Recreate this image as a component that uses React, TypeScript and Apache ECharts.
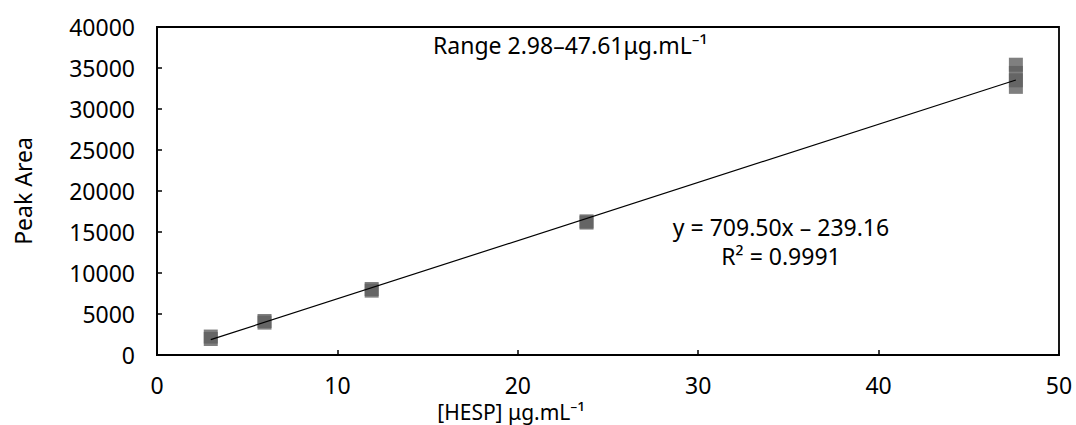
import React, { useEffect, useRef } from "react";
import * as echarts from "echarts";

const concX = [2.98, 2.98, 5.96, 5.96, 11.9, 11.9, 23.81, 23.81, 47.61, 47.61, 47.61, 47.61];
const peakArea = [1950, 2250, 3950, 4150, 7850, 8050, 16150, 16300, 32700, 33500, 34400, 35400];
const trendX = [2.98, 47.61];
const trendY = [1875, 33540];
const xTicks = [0, 10, 20, 30, 40, 50];
const yTicks = [0, 5000, 10000, 15000, 20000, 25000, 30000, 35000, 40000];

const FONT = "'Noto Sans', sans-serif";

export default function App() {
  const ref = useRef<HTMLDivElement>(null);
  useEffect(() => {
    if (!ref.current) return;
    const chart = echarts.init(ref.current, null, { renderer: "svg" });
    chart.setOption({
      animation: false,
      backgroundColor: "#fff",
      textStyle: { fontFamily: FONT },
      grid: {
        left: 157,
        right: 17,
        top: 27,
        bottom: 70,
        outerBoundsMode: "none",
        containLabel: false,
        show: true,
        borderColor: "#000",
        borderWidth: 1.8,
      },
      xAxis: {
        type: "value",
        min: xTicks[0],
        max: xTicks[xTicks.length - 1],
        interval: 10,
        axisLine: { show: true, lineStyle: { color: "#000", width: 1.8 } },
        axisTick: { show: true, inside: true, length: 5, lineStyle: { color: "#000", width: 1.5 } },
        axisLabel: { color: "#000", fontSize: 23, lineHeight: 20, margin: 20, fontFamily: FONT },
        splitLine: { show: false },
      },
      yAxis: {
        type: "value",
        min: yTicks[0],
        max: yTicks[yTicks.length - 1],
        interval: 5000,
        name: "Peak Area",
        nameLocation: "middle",
        nameGap: 123,
        nameTextStyle: { color: "#000", fontSize: 23, fontFamily: FONT },
        axisLine: { show: true, lineStyle: { color: "#000", width: 1.8 } },
        axisTick: { show: true, inside: true, length: 5, lineStyle: { color: "#000", width: 1.5 } },
        axisLabel: {
          color: "#000",
          fontSize: 23,
          margin: 22,
          fontFamily: FONT,
          formatter: (v: number) => String(v),
        },
        splitLine: { show: false },
      },
      series: [
        {
          type: "scatter",
          symbol: "rect",
          symbolSize: 14,
          itemStyle: { color: "#5f5f5f" },
          data: concX.map((x, i) => [x, peakArea[i]]),
          z: 2,
        },
        {
          type: "line",
          symbol: "none",
          lineStyle: { color: "#000", width: 1.2 },
          data: trendX.map((x, i) => [x, trendY[i]]),
          z: 3,
        },
      ],
      graphic: [
        {
          type: "text",
          x: 511,
          y: 412,
          style: {
            text: "[HESP] μg.mL⁻¹",
            fontSize: 21,
            lineHeight: 20,
            fill: "#000",
            align: "center",
            verticalAlign: "middle",
            fontFamily: FONT,
          },
        },
        {
          type: "text",
          left: 433,
          top: 33,
          style: { text: "Range 2.98–47.61μg.mL⁻¹", fontSize: 23, fill: "#000", fontFamily: FONT },
        },
        {
          type: "text",
          x: 781,
          y: 227,
          style: {
            text: "y = 709.50x – 239.16",
            fontSize: 23,
            fill: "#000",
            align: "center",
            verticalAlign: "middle",
            fontFamily: FONT,
          },
        },
        {
          type: "text",
          x: 781,
          y: 256,
          style: {
            text: "R² = 0.9991",
            fontSize: 23,
            fill: "#000",
            align: "center",
            verticalAlign: "middle",
            fontFamily: FONT,
          },
        },
      ],
    });
    return () => chart.dispose();
  }, []);
  return (
    <div
      ref={ref}
      style={{ position: "fixed", left: 0, top: 0, width: 1076, height: 425 }}
    />
  );
}
